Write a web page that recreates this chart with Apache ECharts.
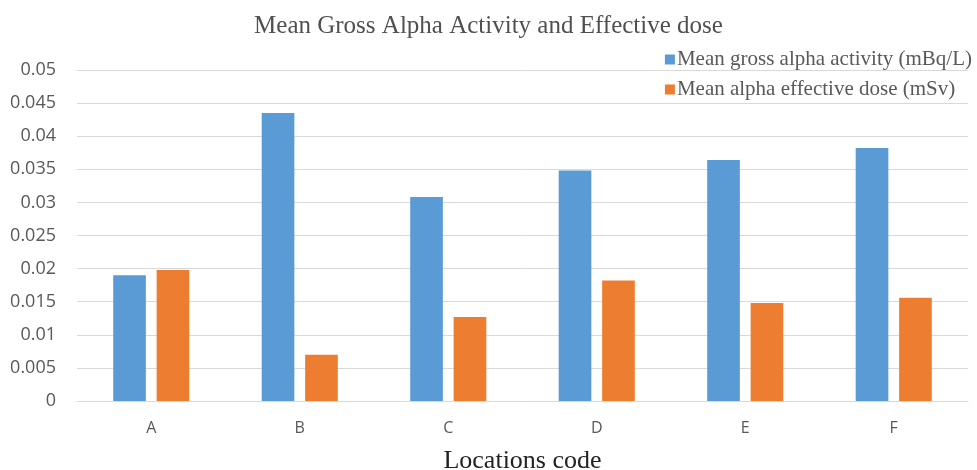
<!DOCTYPE html>
<html>
<head>
<meta charset="utf-8">
<script src="https://cdn.jsdelivr.net/npm/echarts@6/dist/echarts.min.js"></script>
<style>
  html, body { margin: 0; padding: 0; background: #fff; }
  #chart { width: 977px; height: 470px; }
</style>
</head>
<body>
<div id="chart"></div>
<script>
  // data
  var locations = ['A', 'B', 'C', 'D', 'E', 'F']
  var grossAlpha = [0.019, 0.0435, 0.0308, 0.0348, 0.0364, 0.0382]
  var effectiveDose = [0.0198, 0.0070, 0.0127, 0.0182, 0.0148, 0.0156]
  var seriesNames = ['Mean gross alpha activity (mBq/L)', 'Mean alpha effective dose (mSv)']

  var serif = '"Liberation Serif", "Times New Roman", serif'
  var sans = '"Open Sans", "Liberation Sans", sans-serif'

  var chart = echarts.init(document.getElementById('chart'))
  chart.setOption({
    animation: false,
    title: {
      text: 'Mean Gross Alpha Activity and Effective dose',
      left: 'center',
      top: 9,
      textStyle: { fontFamily: serif, fontSize: 25, fontWeight: 'normal', color: '#505050' }
    },
    legend: {
      orient: 'vertical',
      right: 0,
      top: 44,
      itemGap: 9,
      itemWidth: 10,
      itemHeight: 10,
      icon: 'rect',
      textStyle: { fontFamily: serif, fontSize: 21, color: '#595959', padding: [0, 0, 0, -3] },
      data: seriesNames
    },
    // v6: keep the grid where it is, names may sit outside
    grid: { left: 77, right: 9, top: 70, height: 331, outerBoundsMode: 'none' },
    xAxis: {
      type: 'category',
      data: locations,
      name: 'Locations code',
      nameLocation: 'middle',
      nameGap: 47,
      nameTextStyle: { fontFamily: serif, fontSize: 26, color: '#222' },
      axisLine: { lineStyle: { color: '#d9d9d9' } },
      axisTick: { show: false },
      axisLabel: { fontFamily: sans, fontSize: 16, color: '#595959', margin: 19 }
    },
    yAxis: {
      type: 'value',
      min: 0,
      max: 0.05,
      interval: 0.005,
      axisLine: { show: false },
      axisTick: { show: false },
      splitLine: { lineStyle: { color: '#d9d9d9' } },
      axisLabel: { fontFamily: sans, fontSize: 18, color: '#595959', margin: 21 }
    },
    series: [
      {
        name: seriesNames[0],
        type: 'bar',
        data: grossAlpha,
        barWidth: '22%',
        barGap: '33%',
        itemStyle: { color: '#5B9BD5' }
      },
      {
        name: seriesNames[1],
        type: 'bar',
        data: effectiveDose,
        barWidth: '22%',
        itemStyle: { color: '#ED7D31' }
      }
    ]
  })
</script>
</body>
</html>
